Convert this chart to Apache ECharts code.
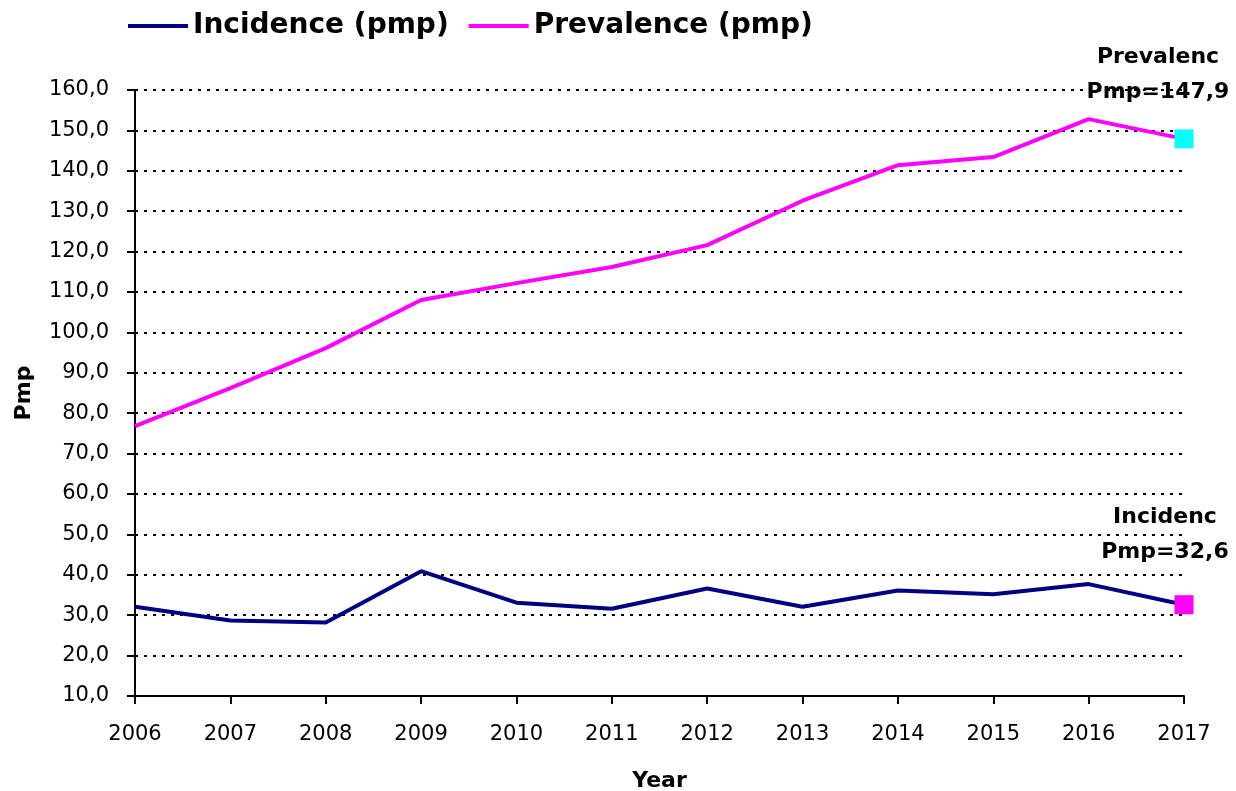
<!DOCTYPE html>
<html>
<head>
<meta charset="utf-8">
<script src="https://cdn.jsdelivr.net/npm/echarts@6/dist/echarts.min.js"></script>
<style>
  html, body { margin: 0; padding: 0; background: #fff; }
  #chart { width: 1236px; height: 791px; }
</style>
</head>
<body>
<div id="chart"></div>
<script>
  const years = ['2006', '2007', '2008', '2009', '2010', '2011', '2012', '2013', '2014', '2015', '2016', '2017'];
  const incidence = [32.1, 28.7, 28.2, 40.9, 33.1, 31.6, 36.6, 32.1, 36.1, 35.2, 37.7, 32.6];
  const prevalence = [76.8, 86.2, 96.1, 108.0, 112.2, 116.2, 121.6, 132.6, 141.4, 143.4, 152.8, 147.9];

  const fmt = (v) => v.toFixed(1).replace('.', ',');

  // only the last point gets a square marker and a label
  function buildData(values, markColor, title, dist, dx) {
    return values.map((v, i) => {
      if (i < values.length - 1) return { value: v, symbol: 'none' };
      return {
        value: v,
        symbol: 'rect',
        symbolSize: 19,
        itemStyle: { color: markColor },
        label: {
          show: true,
          position: 'top',
          distance: dist,
          offset: [dx, 0],
          formatter: title + '\nPmp=' + fmt(v),
          fontFamily: 'DejaVu Sans',
          fontWeight: 'bold',
          fontSize: 22,
          lineHeight: 35,
          color: '#000',
        },
      };
    });
  }

  const chart = echarts.init(document.getElementById('chart'));
  chart.setOption({
    animation: false,
    legend: {
      top: 7,
      left: 123,
      itemWidth: 60,
      itemHeight: 4,
      itemGap: 20,
      textStyle: {
        fontFamily: 'DejaVu Sans',
        fontWeight: 'bold',
        fontSize: 28,
        color: '#000',
      },
      data: [
        { name: 'Incidence (pmp)', icon: 'rect' },
        { name: 'Prevalence (pmp)', icon: 'rect' },
      ],
    },
    grid: { left: 135, right: 52, top: 90, bottom: 95, outerBoundsMode: 'none' },
    xAxis: {
      type: 'category',
      data: years,
      boundaryGap: false,
      name: 'Year',
      nameLocation: 'middle',
      nameGap: 74,
      nameTextStyle: { fontFamily: 'DejaVu Sans', fontWeight: 'bold', fontSize: 22, color: '#000' },
      axisLine: { lineStyle: { color: '#000', width: 2 } },
      axisTick: { show: true, length: 8, lineStyle: { color: '#000', width: 2 } },
      axisLabel: { margin: 28, fontFamily: 'DejaVu Sans', fontSize: 21, color: '#000' },
      splitLine: { show: false },
    },
    yAxis: {
      type: 'value',
      min: 10,
      max: 160,
      interval: 10,
      name: 'Pmp',
      nameLocation: 'middle',
      nameGap: 100,
      nameRotate: 90,
      nameTextStyle: { fontFamily: 'DejaVu Sans', fontWeight: 'bold', fontSize: 22, color: '#000' },
      axisLine: { show: true, lineStyle: { color: '#000', width: 2 } },
      axisTick: { show: true, length: 8, lineStyle: { color: '#000', width: 2 } },
      axisLabel: { margin: 26, fontFamily: 'DejaVu Sans', fontSize: 21, color: '#000', formatter: fmt },
      splitLine: { show: true, lineStyle: { color: '#000', width: 2, type: [3, 6] } },
    },
    series: [
      {
        name: 'Incidence (pmp)',
        type: 'line',
        data: buildData(incidence, '#ff00ff', 'Incidenc', 25, -19),
        lineStyle: { color: '#000080', width: 4 },
        itemStyle: { color: '#000080' },
        z: 3,
      },
      {
        name: 'Prevalence (pmp)',
        type: 'line',
        data: buildData(prevalence, '#00ffff', 'Prevalenc', 20, -26),
        lineStyle: { color: '#ff00ff', width: 4 },
        itemStyle: { color: '#ff00ff' },
        z: 3,
      },
    ],
  });
</script>
</body>
</html>
